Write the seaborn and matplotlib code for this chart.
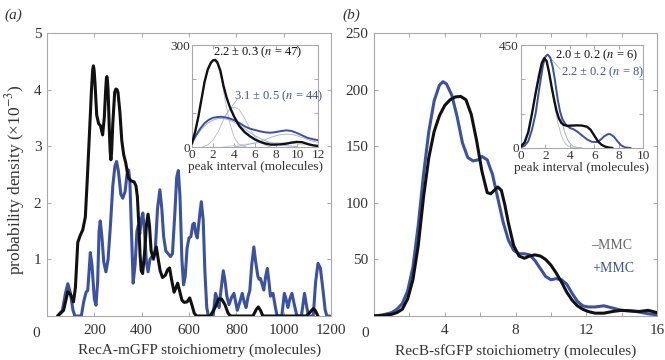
import numpy as np
import pandas as pd
import seaborn as sns
import matplotlib
matplotlib.use("Agg")
import matplotlib.pyplot as plt

# ---------------- data ----------------
# Panel (a): RecA-mGFP stoichiometry KDE (x in molecules, y in 1e-3 prob. density)
recA_minus_x = [45, 70, 88, 100, 112, 120, 130, 140, 151, 162, 170, 178, 188, 193, 196, 199, 203, 210, 218, 226, 235, 242,
                248, 251, 253, 255, 258, 264, 267, 270, 273, 278, 286, 291, 296, 300, 308, 316, 324, 333, 343, 352, 360, 368,
                376, 382, 388, 393, 398, 404, 412, 420, 427, 433, 440, 449, 455, 462, 470, 478, 488, 500, 510, 518, 526,
                537, 545, 552, 560, 570, 580, 592, 603, 612, 622, 632, 690, 710, 725, 738, 752, 765, 775, 870, 885, 893,
                902, 912, 1095, 1110, 1125, 1133, 1145]
recA_minus_y = [0, 0.1, 0.43, 0.38, 0.25, 0.5, 1.3, 1.42, 1.52, 1.75, 2.4, 3.1, 4.0, 4.35, 4.42, 4.35, 4.1, 3.55, 3.4, 3.36,
                3.2, 3.5, 4.0, 4.2, 4.23, 4.18, 4.0, 3.2, 2.9, 2.76, 2.9, 3.4, 3.95, 4.01, 4.0, 3.95, 3.6, 3.1, 2.85, 2.7,
                2.45, 2.4, 2.38, 2.37, 2.3, 2.1, 1.6, 1.1, 0.8, 0.75, 1.1, 1.6, 1.8, 1.6, 1.15, 1.02, 1.1, 1.22, 1.0, 0.8,
                0.68, 0.72, 0.82, 0.85, 0.65, 0.42, 0.5, 0.58, 0.45, 0.28, 0.24, 0.25, 0.32, 0.2, 0.05, 0, 0, 0.15, 0.3,
                0.3, 0.2, 0.05, 0, 0, 0.12, 0.16, 0.1, 0, 0, 0.06, 0.13, 0.1, 0]
recA_plus_x = [45, 65, 78, 88, 98, 110, 118, 145, 155, 165, 172, 178, 183, 190, 200, 207, 214, 220, 225, 232,
               240, 249, 258, 268, 278, 287, 294, 302, 312, 320, 330, 338, 345, 350, 356, 364, 372, 380, 386, 392,
               398, 405, 412, 420, 427, 435, 443, 450, 458, 467, 477, 485, 493, 502, 512, 522, 530, 540, 548, 555,
               562, 570, 577, 584, 592, 600, 608, 616, 622, 629, 635, 643, 652, 660, 667, 675, 682, 702, 712, 720,
               727, 735, 745, 753, 760, 769, 780, 790, 797, 804, 815, 825, 833, 841, 850, 857, 865, 874, 882, 891,
               896, 902, 910, 916, 924, 931, 938, 944, 949, 955, 963, 972, 992, 1003, 1010, 1018, 1026, 1035, 1045, 1056,
               1075, 1088, 1098, 1105, 1125, 1135, 1145, 1155, 1165, 1175, 1182, 1195]
recA_plus_y = [0, 0.1, 0.4, 0.57, 0.42, 0.1, 0, 0, 0.25, 0.42, 0.45, 0.8, 1.12, 0.9, 0.3, 0.19, 0.6, 1.5, 1.68, 1.4,
               0.95, 0.78, 1.0, 1.6, 2.3, 2.65, 2.73, 2.55, 2.15, 2.08, 2.2, 2.5, 2.58, 2.4, 1.6, 0.58, 0.9, 1.5, 1.6, 1.45,
               1.7, 1.82, 1.5, 0.95, 0.78, 1.0, 1.05, 1.0, 1.2, 1.9, 2.23, 1.9, 1.4, 1.15, 1.1, 1.05, 1.1, 1.8, 2.45, 2.57,
               2.1, 1.0, 0.55, 0.7, 1.2, 1.38, 1.4, 1.62, 1.64, 1.45, 1.38, 1.7, 2.02, 1.7, 0.8, 0.15, 0, 0, 0.4, 0.3,
               0.15, 0.45, 0.8, 0.6, 0.35, 0.2, 0.33, 0.4, 0.25, 0.1, 0.25, 0.4, 0.25, 0.15, 0.35, 0.45, 0.9, 1.22, 0.95, 0.7,
               0.65, 0.66, 0.55, 0.46, 0.7, 0.84, 0.6, 0.35, 0.38, 0.4, 0.2, 0, 0, 0.4, 0.3, 0.15, 0.3, 0.4, 0.2, 0,
               0, 0.4, 0.15, 0, 0, 0.6, 0.93, 0.85, 0.5, 0.12, 0, 0]

# Panel (a) inset: peak interval distributions
insA_minus_x = [0, 0.3, 0.6, 0.9, 1.2, 1.5, 1.8, 2.0, 2.2, 2.4, 2.7, 3.0, 3.3, 3.6, 4.0, 4.5, 5.0, 5.5, 6.0, 6.5,
                7.0, 7.5, 8.0, 8.5, 9.0, 9.5, 10.0, 10.5, 11.0, 11.5, 12]
insA_minus_y = [10, 45, 88, 140, 192, 228, 248, 255, 256, 250, 225, 180, 145, 118, 90, 62, 44, 32, 22, 15,
                10, 7, 7, 8, 10, 13, 15, 14, 9, 5, 3]
insA_plus_x = [0, 0.4, 0.8, 1.2, 1.6, 2.0, 2.4, 2.8, 3.2, 3.6, 4.0, 4.5, 5.0, 5.5, 6.0, 6.5, 7.0, 7.5, 8.0, 8.5,
               9.0, 9.5, 10.0, 10.5, 11.0, 11.5, 12]
insA_plus_y = [13, 35, 55, 70, 80, 86, 88, 89, 87, 84, 79, 71, 61, 54, 50, 46, 43, 42, 44, 47,
               49, 47, 41, 34, 27, 23, 20]
insA_comp1_x = [0, 0.4, 0.8, 1.2, 1.6, 2.0, 2.2, 2.4, 2.8, 3.2, 3.6, 4.0, 4.4, 4.8, 5.2]
insA_comp1_y = [10, 50, 120, 190, 235, 252, 252, 245, 200, 130, 70, 30, 10, 3, 0]
insA_comp2_x = [1, 1.5, 2, 2.5, 3, 3.5, 4, 4.5, 5, 5.5, 6, 6.5, 7, 7.5]
insA_comp2_y = [0, 6, 20, 45, 80, 108, 118, 110, 85, 55, 30, 14, 5, 0]
insA_comp3_x = [3, 5, 7, 9, 11, 12]
insA_comp3_y = [0, 8, 14, 12, 6, 3]
insA_comp4_x = [0, 0.5, 1, 1.5, 2, 2.5, 3, 3.5, 4, 4.5, 5, 5.5, 6, 6.5, 7, 7.5, 8, 9, 10]
insA_comp4_y = [12, 36, 56, 70, 79, 84, 84, 80, 73, 63, 53, 43, 33, 25, 18, 13, 9, 4, 1]
insA_comp5_x = [4, 5, 6, 6.5, 7, 7.5, 8, 8.5, 9, 9.5, 10, 10.5, 11, 11.5, 12]
insA_comp5_y = [0, 5, 12, 17, 22, 28, 33, 37, 38, 37, 33, 28, 22, 17, 14]

# Panel (b): RecB-sfGFP stoichiometry KDE
recB_minus_x = [0, 0.5, 1.0, 1.3, 1.6, 1.9, 2.2, 2.5, 2.8, 3.1, 3.4, 3.7, 4.0, 4.3, 4.6, 4.9, 5.2, 5.5, 5.8, 6.1,
                6.4, 6.6, 6.8, 7.0, 7.2, 7.4, 7.6, 7.9, 8.2, 8.5, 8.8, 9.1, 9.4, 9.7, 10.0, 10.3, 10.6, 10.9, 11.2,
                11.5, 11.8, 12.1, 12.5, 13, 13.5, 14, 14.5, 15, 15.5, 16]
recB_minus_y = [0, 0.5, 1.5, 3, 6, 15, 32, 62, 105, 140, 163, 177, 186, 191, 193.5, 194, 191, 178, 155, 128,
                109, 108, 111, 114, 111, 98, 82, 62, 53, 51, 53, 54, 53, 50, 45, 38, 30, 21, 14,
                9, 6, 4, 2.5, 2.5, 4, 5, 4.5, 4, 5, 3]
recB_plus_x = [0, 0.5, 1.0, 1.3, 1.6, 1.9, 2.2, 2.5, 2.8, 3.1, 3.4, 3.7, 3.9, 4.1, 4.4, 4.7, 5.0, 5.3, 5.6, 5.9,
               6.1, 6.4, 6.7, 7.0, 7.3, 7.6, 7.9, 8.2, 8.5, 8.8, 9.1, 9.4, 9.7, 10.0, 10.3, 10.6, 10.9, 11.2, 11.5,
               11.8, 12.1, 12.5, 13, 13.5, 14, 14.5, 15, 15.5, 16]
recB_plus_y = [0, 1, 3, 6, 11, 22, 43, 80, 125, 163, 190, 204, 207, 205, 195, 176, 153, 140, 137, 138,
               141, 138, 125, 104, 83, 67, 58, 55, 55, 54, 49, 42, 35, 32, 33, 32, 28, 20, 13,
               9, 8, 8, 9, 7, 5, 4.5, 3.5, 2, 1]

# Panel (b) inset
insB_minus_x = [0, 0.3, 0.6, 0.9, 1.2, 1.5, 1.7, 1.9, 2.1, 2.3, 2.5, 2.7, 2.9, 3.1, 3.3, 3.5, 3.8, 4.2, 4.6, 5.0,
                5.4, 5.7, 6.0, 6.3, 6.6, 6.9, 7.2, 7.5]
insB_minus_y = [7, 25, 70, 150, 240, 320, 370, 392, 380, 330, 270, 215, 165, 130, 110, 101, 97, 98, 99, 98,
                93, 80, 55, 30, 14, 6, 2, 0]
insB_plus_x = [0, 0.3, 0.6, 0.9, 1.2, 1.5, 1.8, 2.0, 2.2, 2.4, 2.6, 2.8, 3.0, 3.2, 3.4, 3.7, 4.0, 4.3, 4.6, 5.0,
               5.4, 5.8, 6.2, 6.5, 6.8, 7.1, 7.3, 7.6, 7.9, 8.2, 8.5, 9.0]
insB_plus_y = [3, 10, 30, 80, 150, 260, 360, 400, 408, 395, 355, 290, 215, 160, 125, 100, 88, 82, 72, 55,
               38, 27, 26, 35, 50, 60, 61, 50, 30, 12, 3, 0]
insB_comp1_x = [0, 0.4, 0.8, 1.1, 1.4, 1.7, 1.9, 2.1, 2.4, 2.7, 3.0, 3.3, 3.6, 3.9, 4.3, 5]
insB_comp1_y = [8, 35, 120, 220, 320, 380, 390, 375, 300, 200, 115, 55, 22, 7, 1, 0]
insB_comp2_x = [0, 0.5, 0.9, 1.2, 1.5, 1.8, 2.15, 2.4, 2.7, 3.0, 3.3, 3.6, 3.9, 4.2, 4.6, 5]
insB_comp2_y = [4, 20, 80, 160, 270, 370, 408, 390, 320, 220, 130, 65, 28, 10, 2, 0]

# ---------------- style ----------------
sns.set_theme(style="ticks")
plt.rcParams["font.family"] = ["Liberation Serif", "DejaVu Serif"]
plt.rcParams["mathtext.fontset"] = "stix"

BLUE = "#3b52a3"
BLACK = "#111111"
GRAY = "#b8b8b8"
LBLUE = "#a0b0da"
SPINE = "#a8a8a8"
TXT = "#333333"

fig = plt.figure(figsize=(6.65, 3.6), dpi=100)
W, H = 665.0, 360.0


def px_axes(l, r, t, b):
    return fig.add_axes([l / W, (H - b) / H, (r - l) / W, (b - t) / H])


def style_axes(ax, fs, pad):
    for s in ax.spines.values():
        s.set_color(SPINE)
        s.set_linewidth(0.8)
    ax.tick_params(direction="in", top=True, right=True, length=3, width=0.7,
                   color=SPINE, labelcolor=TXT, labelsize=fs, pad=pad)
    ax.set_facecolor("white")


def line(ax, x, y, color, lw, z=3):
    sns.lineplot(x=x, y=y, ax=ax, color=color, lw=lw, sort=False, estimator=None,
                 legend=False, zorder=z, solid_joinstyle="round", solid_capstyle="round")


# ---------- panel (a) ----------
axA = px_axes(47, 331, 33, 316)
line(axA, recA_plus_x, recA_plus_y, BLUE, 2.2)
line(axA, recA_minus_x, recA_minus_y, BLACK, 2.2, z=4)
axA.set_xlim(0, 1200)
axA.set_ylim(0, 5)
axA.set_xticks(range(0, 1201, 200))
axA.set_xticklabels([""] + [str(v) for v in range(200, 1201, 200)])
axA.set_yticks(range(0, 6))
axA.set_yticklabels([""] + [str(v) for v in range(1, 6)])
style_axes(axA, 11, 6)
axA.tick_params(axis="y", pad=4)
axA.set_xlabel("RecA-mGFP stoichiometry (molecules)", fontsize=11, color=TXT)
axA.xaxis.set_label_coords((200 - 47) / 284, -(344 - 316) / 283)
axA.set_ylabel("")
axA.annotate("0", xy=(0, 0), xycoords="axes fraction", xytext=(-7.5, -8), textcoords="offset points",
             ha="center", va="top", fontsize=11, color=TXT)
fig.text(15 / W, 1 - 180 / H, "probability density (×10$^{-3}$)", rotation=90, ha="center", va="center",
         fontsize=12.5, color=TXT)
fig.text(4 / W, 1 - 15 / H, "(a)", style="italic", fontsize=11, ha="left", va="center", color=TXT)

# inset (a)
inA = px_axes(192, 318, 45, 147)
line(inA, insA_comp3_x, insA_comp3_y, "#d0d0d0", 0.6, z=2)
line(inA, insA_comp5_x, insA_comp5_y, LBLUE, 0.6, z=2)
line(inA, insA_comp2_x, insA_comp2_y, GRAY, 0.6, z=2)
line(inA, insA_comp1_x, insA_comp1_y, GRAY, 0.6, z=2)
line(inA, insA_comp4_x, insA_comp4_y, LBLUE, 0.7, z=2)
line(inA, insA_plus_x, insA_plus_y, BLUE, 1.4, z=3)
line(inA, insA_minus_x, insA_minus_y, BLACK, 1.7, z=4)
inA.set_xlim(0, 12)
inA.set_ylim(0, 300)
inA.set_xticks(range(0, 13, 2))
inA.set_yticks([0, 100, 200, 300])
inA.set_yticklabels(["0", "", "", "300"])
style_axes(inA, 9.5, 1.5)
inA.set_xlabel("peak interval (molecules)", fontsize=9.5, color=TXT, labelpad=0)
inA.set_ylabel("")
inA.text(2.0, 280, "2.2 ± 0.3 ($n$ = 47)", fontsize=9, color=BLACK, ha="left", va="center")
inA.text(4.0, 150, "3.1 ± 0.5 ($n$ = 44)", fontsize=9, color=BLUE, ha="left", va="center")
inA.plot([3.1, 4.3], [90, 140], color=LBLUE, lw=0.6)

# ---------- panel (b) ----------
axB = px_axes(374, 657, 33, 316)
line(axB, recB_plus_x, recB_plus_y, BLUE, 2.2)
line(axB, recB_minus_x, recB_minus_y, BLACK, 2.2, z=4)
axB.set_xlim(0, 16)
axB.set_ylim(0, 250)
axB.set_xticks(range(0, 17, 2))
axB.set_xticklabels(["" if (v % 4 or v == 0) else str(v) for v in range(0, 17, 2)])
axB.set_yticks(range(0, 251, 50))
axB.set_yticklabels([""] + [str(v) for v in range(50, 251, 50)])
style_axes(axB, 11, 6)
axB.tick_params(axis="y", pad=4)
axB.set_xlabel("RecB-sfGFP stoichiometry (molecules)", fontsize=11, color=TXT)
axB.xaxis.set_label_coords(0.5, -(344 - 316) / 283)
axB.set_ylabel("")
axB.annotate("0", xy=(0, 0), xycoords="axes fraction", xytext=(-6.5, -8), textcoords="offset points",
             ha="center", va="top", fontsize=11, color=TXT)
axB.text(12.3, 62, "–MMC", fontsize=10, color="#666666", ha="left", va="center")
axB.text(12.35, 42, "+MMC", fontsize=10, color=BLUE, ha="left", va="center")
fig.text(342 / W, 1 - 15 / H, "(b)", style="italic", fontsize=11, ha="left", va="center", color=TXT)

# inset (b)
inB = px_axes(521, 643, 45, 148)
line(inB, insB_comp1_x, insB_comp1_y, GRAY, 0.6, z=2)
line(inB, insB_comp2_x, insB_comp2_y, LBLUE, 0.7, z=2)
line(inB, insB_plus_x, insB_plus_y, BLUE, 1.4, z=3)
line(inB, insB_minus_x, insB_minus_y, BLACK, 1.7, z=4)
inB.set_xlim(0, 10)
inB.set_ylim(0, 450)
inB.set_xticks(range(0, 11, 2))
inB.set_yticks([0, 150, 300, 450])
inB.set_yticklabels(["0", "", "", "450"])
style_axes(inB, 9.5, 1.5)
inB.set_xlabel("peak interval (molecules)", fontsize=9.5, color=TXT, labelpad=0)
inB.set_ylabel("")
inB.text(2.75, 405, "2.0 ± 0.2 ($n$ = 6)", fontsize=9, color=BLACK, ha="left", va="center")
inB.text(3.3, 330, "2.2 ± 0.2 ($n$ = 8)", fontsize=9, color=BLUE, ha="left", va="center")
inB.plot([2.2, 3.2], [405, 345], color=LBLUE, lw=0.6)

fig.savefig("out.png", dpi=100, facecolor="white")
